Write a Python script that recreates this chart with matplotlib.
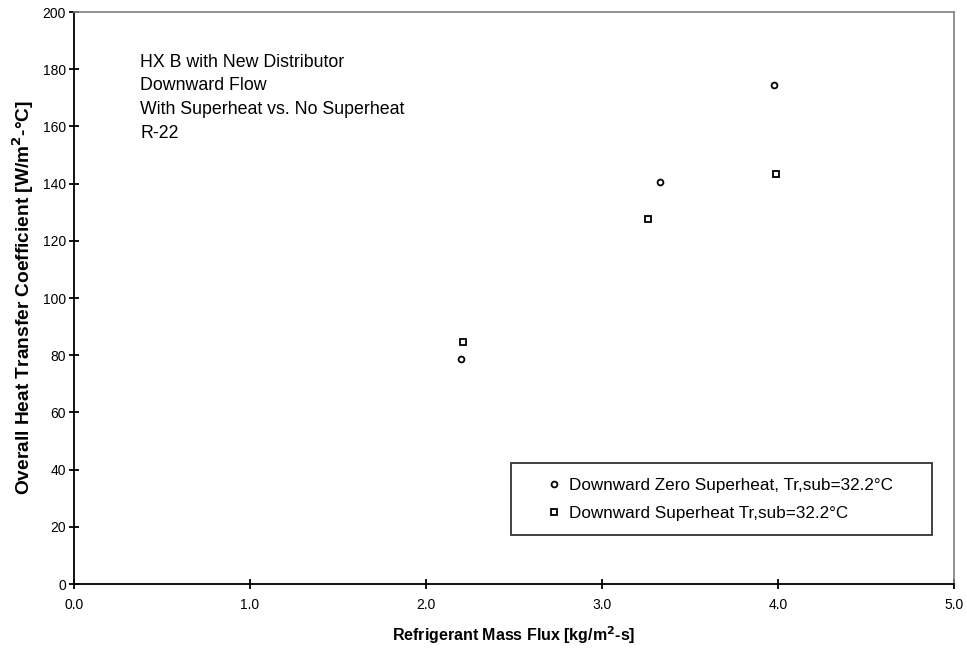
import matplotlib
matplotlib.use("Agg")
import matplotlib.pyplot as plt

plt.rcParams['font.family'] = ['Liberation Sans', 'DejaVu Sans']

zero_x = [2.20, 3.33, 3.98]
zero_y = [78.5, 140.5, 174.5]
sh_x = [2.21, 3.26, 3.99]
sh_y = [84.5, 127.5, 143.5]

xticks = [0.0, 1.0, 2.0, 3.0, 4.0, 5.0]
yticks = [0, 20, 40, 60, 80, 100, 120, 140, 160, 180, 200]

fig = plt.figure(figsize=(9.67, 6.51), dpi=100)
ax = fig.add_axes([74/967, 1-584/651, (954-74)/967, (584-12)/651])

ax.plot(zero_x, zero_y, linestyle='none', marker='o', markersize=4.2,
        markerfacecolor='white', markeredgecolor='black', markeredgewidth=1.3,
        label='Downward Zero Superheat, Tr,sub=32.2°C', clip_on=False)
ax.plot(sh_x, sh_y, linestyle='none', marker='s', markersize=4,
        markerfacecolor='white', markeredgecolor='black', markeredgewidth=1.3,
        label='Downward Superheat Tr,sub=32.2°C', clip_on=False)

ax.set_xlim(0, 5)
ax.set_ylim(0, 200)
ax.set_xticks(xticks)
ax.set_xticklabels([f'{v:.1f}' for v in xticks])
ax.set_yticks(yticks)
ax.set_yticklabels([str(v) for v in yticks])
for s in ['top', 'right']:
    ax.spines[s].set_color('#808080')
    ax.spines[s].set_linewidth(1.2)
ax.spines['left'].set_linewidth(1.3)
ax.spines['bottom'].set_linewidth(1.3)
ax.tick_params(direction='inout', length=7.5, width=1.3, labelsize=10)
ax.tick_params(axis='x', pad=6)
ax.tick_params(axis='y', pad=2)

ax.set_xlabel('Refrigerant Mass Flux [kg/m$^\\mathbf{2}$-s]', fontsize=11.5, fontweight='bold', labelpad=9)
ax.set_ylabel('Overall Heat Transfer Coefficient [W/m$^\\mathbf{2}$-°C]', fontsize=13.8, fontweight='bold', labelpad=5)

ax.text(140/967, 1-54/651, 'HX B with New Distributor\nDownward Flow\nWith Superheat vs. No Superheat\nR-22',
        transform=fig.transFigure, fontsize=12.8, va='top', ha='left', linespacing=1.5)

leg = ax.legend(loc='upper left', bbox_to_anchor=((511-74)/880, (584-463)/572, (932-511)/880, 0),
                mode='expand', frameon=True, fancybox=False, edgecolor='black', fontsize=12.3,
                handlelength=3.3, handletextpad=-0.78, borderpad=0.85, labelspacing=0.78,
                borderaxespad=0)
leg.get_frame().set_linewidth(1.3)

fig.savefig('out.png', dpi=100)
